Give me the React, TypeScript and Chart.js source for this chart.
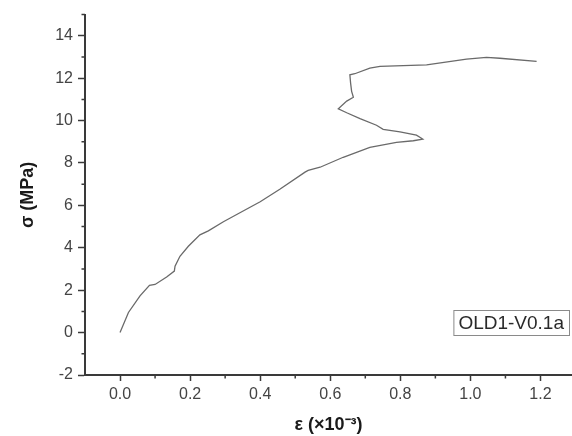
import React, { useEffect, useRef } from "react";
import { Chart, registerables } from "chart.js";

Chart.register(...registerables);

const SERIES_LABEL = "OLD1-V0.1a";
const strain = [0, 0.024, 0.057, 0.084, 0.1, 0.133, 0.155, 0.157, 0.171, 0.195, 0.228, 0.252, 0.295, 0.333, 0.4, 0.456, 0.528, 0.537, 0.571, 0.637, 0.713, 0.789, 0.837, 0.864, 0.846, 0.799, 0.751, 0.732, 0.685, 0.647, 0.623, 0.647, 0.666, 0.661, 0.658, 0.656, 0.67, 0.713, 0.742, 0.875, 0.989, 1.046, 1.084, 1.189];
const stress = [0, 0.95, 1.73, 2.23, 2.27, 2.62, 2.9, 3.13, 3.6, 4.07, 4.61, 4.8, 5.23, 5.57, 6.17, 6.76, 7.57, 7.65, 7.8, 8.27, 8.74, 8.97, 9.05, 9.13, 9.31, 9.47, 9.59, 9.78, 10.09, 10.37, 10.56, 10.92, 11.1, 11.38, 11.78, 12.16, 12.21, 12.48, 12.56, 12.63, 12.9, 12.98, 12.94, 12.79];

const xMajorTicks = [0, 0.2, 0.4, 0.6, 0.8, 1.0, 1.2];
const xMinorTicks = [0.1, 0.3, 0.5, 0.7, 0.9, 1.1];
const yMajorTicks = [-2, 0, 2, 4, 6, 8, 10, 12, 14];
const yMinorTicks = [-1, 1, 3, 5, 7, 9, 11, 13, 15];

const X_TITLE = "ε (×10⁻³)";
const Y_TITLE = "σ (MPa)";

const FONT = "'Liberation Sans', Arial, sans-serif";
const AXIS_COLOR = "#3a3a3a";

const minorTicksPlugin = {
  id: "minorTicks",
  afterDraw(chart: any) {
    const ctx = chart.ctx;
    const xs = chart.scales.x;
    const ys = chart.scales.y;
    const area = chart.chartArea;
    ctx.save();
    ctx.strokeStyle = AXIS_COLOR;
    ctx.lineWidth = 1.5;
    ctx.beginPath();
    xMinorTicks.forEach((v) => {
      const px = xs.getPixelForValue(v);
      ctx.moveTo(px, area.bottom);
      ctx.lineTo(px, area.bottom + 3.5);
    });
    yMinorTicks.forEach((v) => {
      const py = ys.getPixelForValue(v);
      ctx.moveTo(area.left, py);
      ctx.lineTo(area.left - 3.5, py);
    });
    ctx.stroke();
    ctx.restore();
  },
};

const labelBoxPlugin = {
  id: "labelBox",
  afterDraw(chart: any) {
    const ctx = chart.ctx;
    const area = chart.chartArea;
    ctx.save();
    ctx.font = `19px ${FONT}`;
    const tw = ctx.measureText(SERIES_LABEL).width;
    const w = tw + 10;
    const h = 25;
    const right = area.right - 3;
    const bottom = area.bottom - 40;
    const left = right - w;
    const top = bottom - h;
    ctx.strokeStyle = "#8a8a8a";
    ctx.lineWidth = 1;
    ctx.strokeRect(left + 0.5, top + 0.5, w, h);
    ctx.fillStyle = "#2a2a2a";
    ctx.textBaseline = "middle";
    ctx.textAlign = "left";
    ctx.fillText(SERIES_LABEL, left + 5, top + h / 2 + 1);
    ctx.restore();
  },
};

export default function App() {
  const ref = useRef<HTMLCanvasElement | null>(null);
  useEffect(() => {
    if (!ref.current) return;
    const chart = new Chart(ref.current, {
      type: "line",
      data: {
        datasets: [
          {
            label: SERIES_LABEL,
            data: strain.map((x, i) => ({ x, y: stress[i] })),
            borderColor: "#6a6a6a",
            borderWidth: 1.3,
            pointRadius: 0,
            tension: 0,
            fill: false,
          },
        ],
      },
      options: {
        animation: false,
        responsive: false,
        maintainAspectRatio: false,
        layout: { padding: { top: 13, right: 0, left: 0, bottom: 0 } },
        plugins: {
          legend: { display: false },
          tooltip: { enabled: false },
        },
        scales: {
          x: {
            type: "linear",
            min: -0.1,
            max: 1.29,
            afterBuildTicks: (s: any) => {
              s.ticks = xMajorTicks.map((v) => ({ value: v }));
            },
            afterFit: (s: any) => {
              s.height = 61;
            },
            ticks: {
              font: { family: FONT, size: 16 },
              color: "#444",
              padding: 4,
              maxRotation: 0,
              callback: (v: any) => Number(v).toFixed(1),
            },
            grid: {
              display: true,
              drawOnChartArea: false,
              drawTicks: true,
              tickLength: 6,
              tickWidth: 1.5,
              tickColor: AXIS_COLOR,
            },
            border: { display: true, color: AXIS_COLOR, width: 2 },
            title: {
              display: true,
              text: X_TITLE,
              font: { family: FONT, size: 18, weight: "bold" },
              color: "#1a1a1a",
              padding: { top: 2, bottom: 0 },
            },
          },
          y: {
            type: "linear",
            min: -2,
            max: 15,
            afterBuildTicks: (s: any) => {
              s.ticks = yMajorTicks.map((v) => ({ value: v }));
            },
            afterFit: (s: any) => {
              s.width = 85;
            },
            ticks: {
              font: { family: FONT, size: 16 },
              color: "#444",
              padding: 5,
              callback: (v: any) => String(v),
            },
            grid: {
              display: true,
              drawOnChartArea: false,
              drawTicks: true,
              tickLength: 7,
              tickWidth: 1.5,
              tickColor: AXIS_COLOR,
            },
            border: { display: true, color: AXIS_COLOR, width: 2 },
            title: {
              display: true,
              text: Y_TITLE,
              font: { family: FONT, size: 18, weight: "bold" },
              color: "#1a1a1a",
              padding: { top: 17, bottom: 0 },
            },
          },
        },
      } as any,
      plugins: [minorTicksPlugin, labelBoxPlugin],
    });
    return () => chart.destroy();
  }, []);
  return (
    <div style={{ position: "fixed", left: 0, top: 0, width: 572, height: 436, background: "#fff" }}>
      <canvas ref={ref} width={572} height={436} style={{ display: "block", width: 572, height: 436 }} />
    </div>
  );
}
